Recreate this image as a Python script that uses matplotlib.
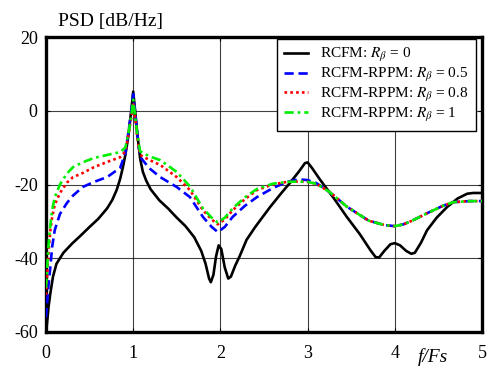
import numpy as np
import matplotlib
matplotlib.use("Agg")
import matplotlib.pyplot as plt

plt.rcParams["font.family"] = ["Liberation Serif", "DejaVu Serif"]
plt.rcParams["mathtext.fontset"] = "stix"
plt.rcParams["axes.unicode_minus"] = False

# Normalised frequency f/Fs and PSD in dB/Hz for each modulation scheme
x_rcfm = [0.0, 0.01, 0.03, 0.05, 0.08, 0.12, 0.20, 0.30, 0.40, 0.50, 0.60, 0.70, 0.76, 0.81,
          0.85, 0.88, 0.91, 0.94, 0.96, 0.98, 1.00,
          1.02, 1.04, 1.06, 1.08, 1.11, 1.15, 1.20, 1.30, 1.40, 1.50, 1.60, 1.70, 1.78,
          1.83, 1.87, 1.89, 1.92, 1.95, 1.98, 2.01, 2.05, 2.09, 2.12, 2.17, 2.22, 2.30,
          2.40, 2.57, 2.70, 2.80, 2.90, 2.97, 3.00, 3.05, 3.14, 3.30, 3.45, 3.60, 3.72,
          3.78, 3.82, 3.88, 3.95, 4.00, 4.06, 4.13, 4.19, 4.23, 4.30, 4.37, 4.48, 4.60,
          4.72, 4.83, 4.90, 5.0]
y_rcfm = [-60.0, -58.0, -53.0, -49.5, -45.0, -41.5, -38.5, -36.0, -33.8, -31.5, -29.3, -26.5, -24.2, -21.5,
          -18.5, -15.5, -12.0, -7.5, -3.5, 0.5, 5.2,
          0.5, -4.5, -9.0, -13.0, -16.5, -19.0, -21.3, -24.3, -26.5, -29.0, -31.3, -34.3, -38.0,
          -41.5, -45.5, -46.5, -44.5, -39.5, -36.5, -37.5, -42.5, -45.5, -45.0, -42.0, -39.5, -35.0,
          -31.5, -26.1, -22.3, -19.5, -16.5, -14.2, -14.0, -15.5, -18.6, -23.7, -28.8, -33.5, -37.8,
          -39.7, -39.8, -38.0, -36.2, -35.9, -36.5, -38.0, -38.8, -38.5, -35.8, -32.4, -29.0, -26.1,
          -23.8, -22.5, -22.3, -22.3]

x_rppm = [0.0, 0.01, 0.03, 0.05, 0.07, 0.10, 0.16, 0.24, 0.31, 0.42, 0.55, 0.70, 0.85, 0.91,
          0.95, 0.98, 1.00, 1.02, 1.05, 1.08, 1.18, 1.31, 1.50, 1.65, 1.80, 1.90, 1.97,
          2.05, 2.14, 2.28, 2.42, 2.60, 2.76, 2.90, 3.00, 3.10, 3.25, 3.45, 3.70, 3.88, 4.00,
          4.10, 4.20, 4.37, 4.55, 4.67, 4.85, 5.0]
y_r05 = [-56.0, -53.0, -47.0, -42.4, -37.0, -32.4, -28.0, -25.0, -23.0, -20.7, -19.3, -18.0, -15.5, -11.5,
         -5.0, 0.0, 4.5, 0.0, -7.0, -12.5, -15.5, -18.0, -20.7, -23.4, -28.8, -31.5, -32.9,
         -31.5, -28.8, -25.8, -23.4, -21.0, -19.3, -18.6, -18.8, -19.6, -22.0, -26.0, -29.8, -31.0, -31.3,
         -30.8, -29.8, -27.8, -25.8, -24.8, -24.5, -24.5]
y_r08 = [-50.0, -46.0, -38.0, -32.4, -29.0, -25.5, -22.3, -19.5, -18.0, -16.9, -15.3, -13.9, -12.6, -11.0,
         -6.0, -1.5, 2.0, -1.5, -8.0, -12.0, -13.3, -14.7, -18.0, -21.5, -27.0, -29.5, -30.8,
         -29.5, -27.0, -24.0, -21.5, -20.0, -19.3, -19.2, -19.3, -19.8, -22.0, -26.0, -29.8, -31.0, -31.3,
         -30.8, -29.8, -27.8, -25.8, -24.8, -24.5, -24.5]
y_r10 = [-48.0, -44.0, -36.0, -31.0, -27.0, -23.5, -20.0, -17.0, -15.3, -14.0, -12.8, -12.0, -11.2, -10.0,
         -5.5, -1.0, 3.0, -1.0, -7.0, -11.0, -12.3, -13.4, -16.6, -20.5, -26.5, -29.0, -30.3,
         -29.0, -26.5, -23.5, -21.2, -19.8, -19.3, -19.2, -19.3, -19.8, -22.0, -26.0, -29.8, -31.0, -31.3,
         -30.8, -29.8, -27.8, -25.8, -24.8, -24.5, -24.5]

labels = [r"RCFM: $R_\beta$ = 0",
          r"RCFM-RPPM: $R_\beta$ = 0.5",
          r"RCFM-RPPM: $R_\beta$ = 0.8",
          r"RCFM-RPPM: $R_\beta$ = 1"]

fig = plt.figure(figsize=(4.95, 3.69), dpi=100)
ax = fig.add_axes([46 / 495, 1 - 332 / 369, 436 / 495, 295 / 369])

ax.plot(x_rcfm, y_rcfm, color="black", lw=1.9, ls="-", label=labels[0], zorder=3)
ax.plot(x_rppm, y_r05, color="#0000ff", lw=1.9, ls=(0, (3.5, 1.8)), label=labels[1], zorder=4)
ax.plot(x_rppm, y_r08, color="#ff0000", lw=1.9, ls=(0, (1, 1.2)), label=labels[2], zorder=5)
ax.plot(x_rppm, y_r10, color="#00ee00", lw=1.9, ls=(0, (3.5, 1.5, 1, 1.5)), label=labels[3], zorder=6)

ax.set_xlim(0, 5)
ax.set_ylim(-60, 20)
ax.set_xticks([0, 1, 2, 3, 4, 5])
ax.set_yticks([-60, -40, -20, 0, 20])
ax.grid(True, color="black", lw=0.8, alpha=0.75)
ax.tick_params(direction="in", length=3, width=0.8, labelsize=13,
               top=True, right=True, pad=6)
ax.tick_params(axis="x", pad=9)
for s in ax.spines.values():
    s.set_linewidth(2.4)

leg = ax.legend(loc="upper right", bbox_to_anchor=(1 - 4 / 436, 1.0), fontsize=11,
                frameon=True, fancybox=False, edgecolor="black", framealpha=1,
                borderaxespad=0.15, handlelength=1.6, handletextpad=0.8,
                labelspacing=0.12, borderpad=0.45)
leg.get_frame().set_linewidth(1.0)

fig.text(58 / 495, 1 - 26 / 369, "PSD [dB/Hz]", fontsize=14, va="baseline", ha="left")
fig.text(418 / 495, 1 - 362 / 369, "f/Fs", fontsize=14, style="italic", va="baseline", ha="left")

fig.savefig("out.png", dpi=100)
